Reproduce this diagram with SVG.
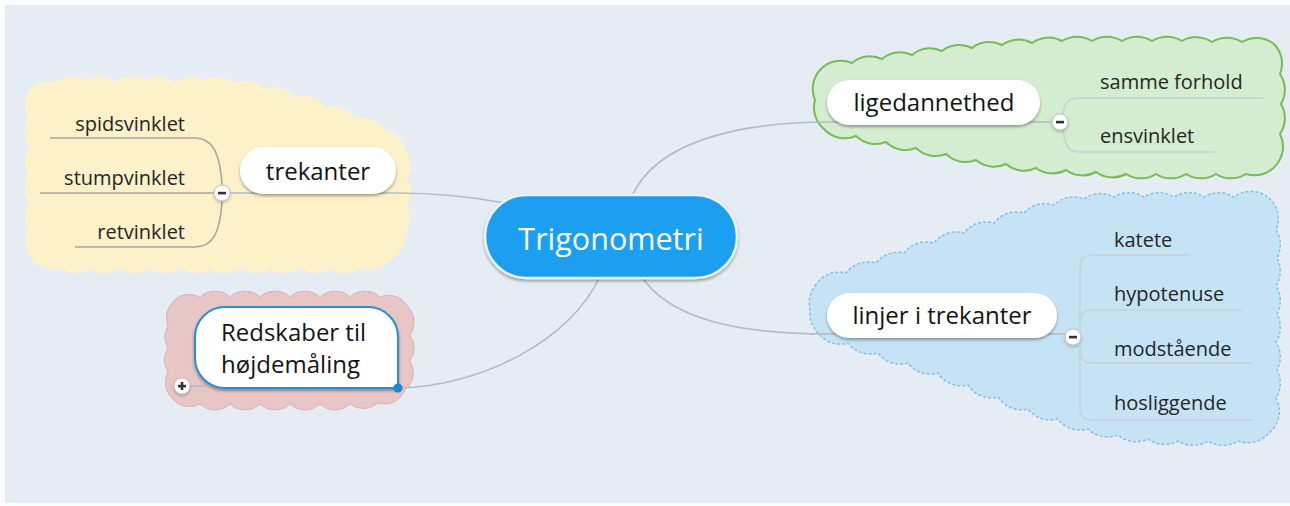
<svg xmlns="http://www.w3.org/2000/svg" width="1290" height="506" viewBox="0 0 1290 506">
  <defs>
    <filter id="shadow" x="-20%" y="-30%" width="140%" height="170%">
      <feDropShadow dx="0" dy="2" stdDeviation="1.6" flood-color="#000" flood-opacity="0.35"/>
    </filter>
    <filter id="soft" x="-20%" y="-30%" width="140%" height="170%">
      <feDropShadow dx="0" dy="1.5" stdDeviation="1.5" flood-color="#000" flood-opacity="0.25"/>
    </filter>
  </defs>
  <style>
    .txt { font-family: "Open Sans", "Noto Sans", "Liberation Sans", sans-serif; }
    .pill { fill: #ffffff; filter: url(#shadow); }
    .label { font-size: 24px; fill: #141414; }
    .leaf { font-size: 20px; fill: #262626; }
    .conn { fill: none; stroke: #b4bcc5; stroke-width: 1.6; }
    .branch-y { fill: none; stroke: #a8a79d; stroke-width: 1.6; }
    .branch { fill: none; stroke: #c9d1d6; stroke-width: 1.6; }
    .toggle { fill: #ffffff; stroke: #c3c3c3; stroke-width: 1; filter: url(#soft); }
    .sign { fill: #333333; }
  </style>

  <!-- canvas -->
  <rect x="0" y="0" width="1290" height="506" fill="#fbfcfd"/>
  <rect x="5" y="5" width="1285" height="498" fill="#e5ecf3"/>

  <!-- boundary clouds -->
  <g id="cloud-trekanter">
    <path fill="#fcf1c9" d="M 29 90 A 28 28 0 0 1 55 82 A 28 28 0 0 1 85 80 A 28 28 0 0 1 115 82 A 28 28 0 0 1 145 80 A 28 28 0 0 1 175 82 A 28 28 0 0 1 205 80 A 28 28 0 0 1 235 83 A 28 28 0 0 1 265 88 A 28 28 0 0 1 295 97 A 28 28 0 0 1 325 107 A 28 28 0 0 1 355 118 A 28 28 0 0 1 385 130 A 28 28 0 0 1 406 150 A 28 28 0 0 1 407 178 A 28 28 0 0 1 407 206 A 28 28 0 0 1 405 234 A 28 28 0 0 1 390 260 A 28 28 0 0 1 360 268 A 28 28 0 0 1 330 269 A 28 28 0 0 1 300 268 A 28 28 0 0 1 270 269 A 28 28 0 0 1 240 268 A 28 28 0 0 1 210 269 A 28 28 0 0 1 180 268 A 28 28 0 0 1 150 269 A 28 28 0 0 1 120 268 A 28 28 0 0 1 90 269 A 28 28 0 0 1 60 268 A 28 28 0 0 1 32 260 A 28 28 0 0 1 28 230 A 28 28 0 0 1 29 202 A 28 28 0 0 1 28 174 A 28 28 0 0 1 29 146 A 28 28 0 0 1 28 118 A 28 28 0 0 1 29 90 Z"/>
  </g>
  <g id="cloud-redskaber">
    <path fill="#e8c6c6" stroke="#dcb3b3" stroke-width="1" d="M 172 303 A 22 22 0 0 1 200 297 A 22 22 0 0 1 230 297 A 22 22 0 0 1 260 297 A 22 22 0 0 1 290 297 A 22 22 0 0 1 320 297 A 22 22 0 0 1 350 297 A 22 22 0 0 1 380 297 A 22 22 0 0 1 408 307 A 22 22 0 0 1 410 335 A 22 22 0 0 1 410 361 A 22 22 0 0 1 405 390 A 22 22 0 0 1 378 403 A 22 22 0 0 1 350 404 A 22 22 0 0 1 320 404 A 22 22 0 0 1 290 404 A 22 22 0 0 1 260 404 A 22 22 0 0 1 230 404 A 22 22 0 0 1 200 404 A 22 22 0 0 1 172 398 A 22 22 0 0 1 168 372 A 22 22 0 0 1 168 348 A 22 22 0 0 1 168 326 A 22 22 0 0 1 172 303 Z"/>
  </g>
  <g id="cloud-ligedannethed">
    <path fill="#d4eccf" stroke="#76bd57" stroke-width="2" d="M 820 70 A 28 28 0 0 1 852 63 A 28 28 0 0 1 882 59 A 28 28 0 0 1 912 55 A 28 28 0 0 1 942 51 A 28 28 0 0 1 972 48 A 28 28 0 0 1 1002 45 A 28 28 0 0 1 1032 43 A 28 28 0 0 1 1062 41 A 28 28 0 0 1 1092 41 A 28 28 0 0 1 1122 41 A 28 28 0 0 1 1152 41 A 28 28 0 0 1 1182 41 A 28 28 0 0 1 1212 42 A 28 28 0 0 1 1242 42 A 28 28 0 0 1 1274 44 A 28 28 0 0 1 1280 74 A 28 28 0 0 1 1281 104 A 28 28 0 0 1 1280 134 A 28 28 0 0 1 1277 164 A 28 28 0 0 1 1246 174 A 28 28 0 0 1 1216 174 A 28 28 0 0 1 1186 174 A 28 28 0 0 1 1156 174 A 28 28 0 0 1 1126 174 A 28 28 0 0 1 1096 172 A 28 28 0 0 1 1066 170 A 28 28 0 0 1 1036 168 A 28 28 0 0 1 1006 164 A 28 28 0 0 1 976 160 A 28 28 0 0 1 946 154 A 28 28 0 0 1 916 148 A 28 28 0 0 1 886 142 A 28 28 0 0 1 856 136 A 28 28 0 0 1 824 129 A 28 28 0 0 1 815 100 A 28 28 0 0 1 820 70 Z"/>
  </g>
  <g id="cloud-linjer">
    <path fill="#c5e3f5" stroke="#86bfe6" stroke-width="1.5" stroke-dasharray="3 2" d="M 815 286 A 28 28 0 0 1 846 273 A 28 28 0 0 1 876 263 A 28 28 0 0 1 904 253 A 28 28 0 0 1 934 243 A 28 28 0 0 1 964 233 A 28 28 0 0 1 994 223 A 28 28 0 0 1 1024 213 A 28 28 0 0 1 1054 205 A 28 28 0 0 1 1084 199 A 28 28 0 0 1 1114 197 A 28 28 0 0 1 1144 197 A 28 28 0 0 1 1174 197 A 28 28 0 0 1 1204 197 A 28 28 0 0 1 1234 197 A 28 28 0 0 1 1270 199 A 28 28 0 0 1 1276 230 A 28 28 0 0 1 1277 258 A 28 28 0 0 1 1276 286 A 28 28 0 0 1 1277 314 A 28 28 0 0 1 1276 342 A 28 28 0 0 1 1277 370 A 28 28 0 0 1 1276 398 A 28 28 0 0 1 1269 433 A 28 28 0 0 1 1238 441 A 28 28 0 0 1 1208 441 A 28 28 0 0 1 1178 441 A 28 28 0 0 1 1148 439 A 28 28 0 0 1 1118 435 A 28 28 0 0 1 1088 429 A 28 28 0 0 1 1058 419 A 28 28 0 0 1 1028 409 A 28 28 0 0 1 998 397 A 28 28 0 0 1 968 385 A 28 28 0 0 1 938 373 A 28 28 0 0 1 908 363 A 28 28 0 0 1 878 353 A 28 28 0 0 1 848 343 A 28 28 0 0 1 818 333 A 28 28 0 0 1 810 310 A 28 28 0 0 1 815 286 Z"/>
  </g>

  <!-- connectors -->
  <g id="connectors">
    <!-- main topics -->
    <path class="conn" d="M 230 193 H 395 C 430 193 462 195 505 203"/>
    <path class="conn" d="M 632 196 C 655 145 730 122 830 122 H 1052"/>
    <path class="conn" d="M 640 274 C 668 320 740 334 830 334 H 1065"/>
    <path class="conn" d="M 600 276 C 572 340 480 387 398 388"/>
    <path class="conn" d="M 190 386 H 205"/>
    <!-- trekanter leaves -->
    <path class="branch-y" d="M 222 185 C 220 152 212 138 195 138 H 50"/>
    <path class="branch-y" d="M 214 193 H 40"/>
    <path class="branch-y" d="M 222 201 C 220 234 212 247 195 247 H 75"/>
    <!-- ligedannethed leaves -->
    <path class="branch" d="M 1063 114 C 1065 102 1068 98 1080 98 H 1263"/>
    <path class="branch" d="M 1063 130 C 1065 146 1068 152 1080 152 H 1215"/>
    <!-- linjer i trekanter leaves -->
    <path class="branch" d="M 1080 330 V 267 Q 1080 255 1092 255 H 1190"/>
    <path class="branch" d="M 1080 322 Q 1080 310 1092 310 H 1243"/>
    <path class="branch" d="M 1080 345 V 351 Q 1080 363 1092 363 H 1253"/>
    <path class="branch" d="M 1080 345 V 408 Q 1080 420 1092 420 H 1253"/>
  </g>

  <!-- central topic -->
  <g id="node-trigonometri" class="txt">
    <rect x="485" y="195" width="252" height="83" rx="41.5" fill="#1b9ff0" stroke="#e9f4fc" stroke-width="2.5" filter="url(#shadow)"/>
    <text x="611" y="250" text-anchor="middle" font-size="30.5" fill="#ffffff">Trigonometri</text>
  </g>

  <!-- trekanter -->
  <g id="node-trekanter" class="txt">
    <rect class="pill" x="240" y="147" width="156" height="47" rx="23.5"/>
    <text class="label" x="318" y="180" text-anchor="middle">trekanter</text>
    <circle class="toggle" cx="222" cy="193" r="8"/>
    <rect class="sign" x="218" y="191.8" width="8" height="2.6"/>
  </g>
  <g id="leaf-spidsvinklet" class="txt"><text class="leaf" x="185" y="131" text-anchor="end">spidsvinklet</text></g>
  <g id="leaf-stumpvinklet" class="txt"><text class="leaf" x="185" y="185" text-anchor="end">stumpvinklet</text></g>
  <g id="leaf-retvinklet" class="txt"><text class="leaf" x="185" y="239" text-anchor="end">retvinklet</text></g>

  <!-- Redskaber til højdemåling -->
  <g id="node-redskaber" class="txt">
    <path d="M 225 307 H 368 A 30 30 0 0 1 398 337 V 388 H 225 A 30 30 0 0 1 195 358 V 337 A 30 30 0 0 1 225 307 Z" fill="#ffffff" stroke="#2b8fd2" stroke-width="2" filter="url(#shadow)"/>
    <circle cx="398" cy="388" r="4.5" fill="#1a86d8"/>
    <text class="label" x="221" y="341" font-size="23" textLength="145" lengthAdjust="spacingAndGlyphs">Redskaber til</text>
    <text class="label" x="221" y="373" font-size="23" textLength="139" lengthAdjust="spacingAndGlyphs">højdemåling</text>
    <circle class="toggle" cx="182" cy="386" r="8"/>
    <rect class="sign" x="178" y="384.8" width="8" height="2.6"/>
    <rect class="sign" x="180.7" y="382" width="2.6" height="8"/>
  </g>

  <!-- ligedannethed -->
  <g id="node-ligedannethed" class="txt">
    <rect class="pill" x="827" y="80" width="213" height="45" rx="22.5"/>
    <text class="label" x="934" y="111" text-anchor="middle">ligedannethed</text>
    <circle class="toggle" cx="1060" cy="122" r="8"/>
    <rect class="sign" x="1056" y="120.8" width="8" height="2.6"/>
  </g>
  <g id="leaf-samme-forhold" class="txt"><text class="leaf" x="1100" y="89">samme forhold</text></g>
  <g id="leaf-ensvinklet" class="txt"><text class="leaf" x="1100" y="143">ensvinklet</text></g>

  <!-- linjer i trekanter -->
  <g id="node-linjer" class="txt">
    <rect class="pill" x="827" y="293" width="230" height="45" rx="22.5"/>
    <text class="label" x="942" y="324" text-anchor="middle">linjer i trekanter</text>
    <circle class="toggle" cx="1073" cy="337" r="8"/>
    <rect class="sign" x="1069" y="335.8" width="8" height="2.6"/>
  </g>
  <g id="leaf-katete" class="txt"><text class="leaf" x="1114" y="247">katete</text></g>
  <g id="leaf-hypotenuse" class="txt"><text class="leaf" x="1114" y="301">hypotenuse</text></g>
  <g id="leaf-modstaaende" class="txt"><text class="leaf" x="1114" y="356">modstående</text></g>
  <g id="leaf-hosliggende" class="txt"><text class="leaf" x="1114" y="410">hosliggende</text></g>
</svg>
